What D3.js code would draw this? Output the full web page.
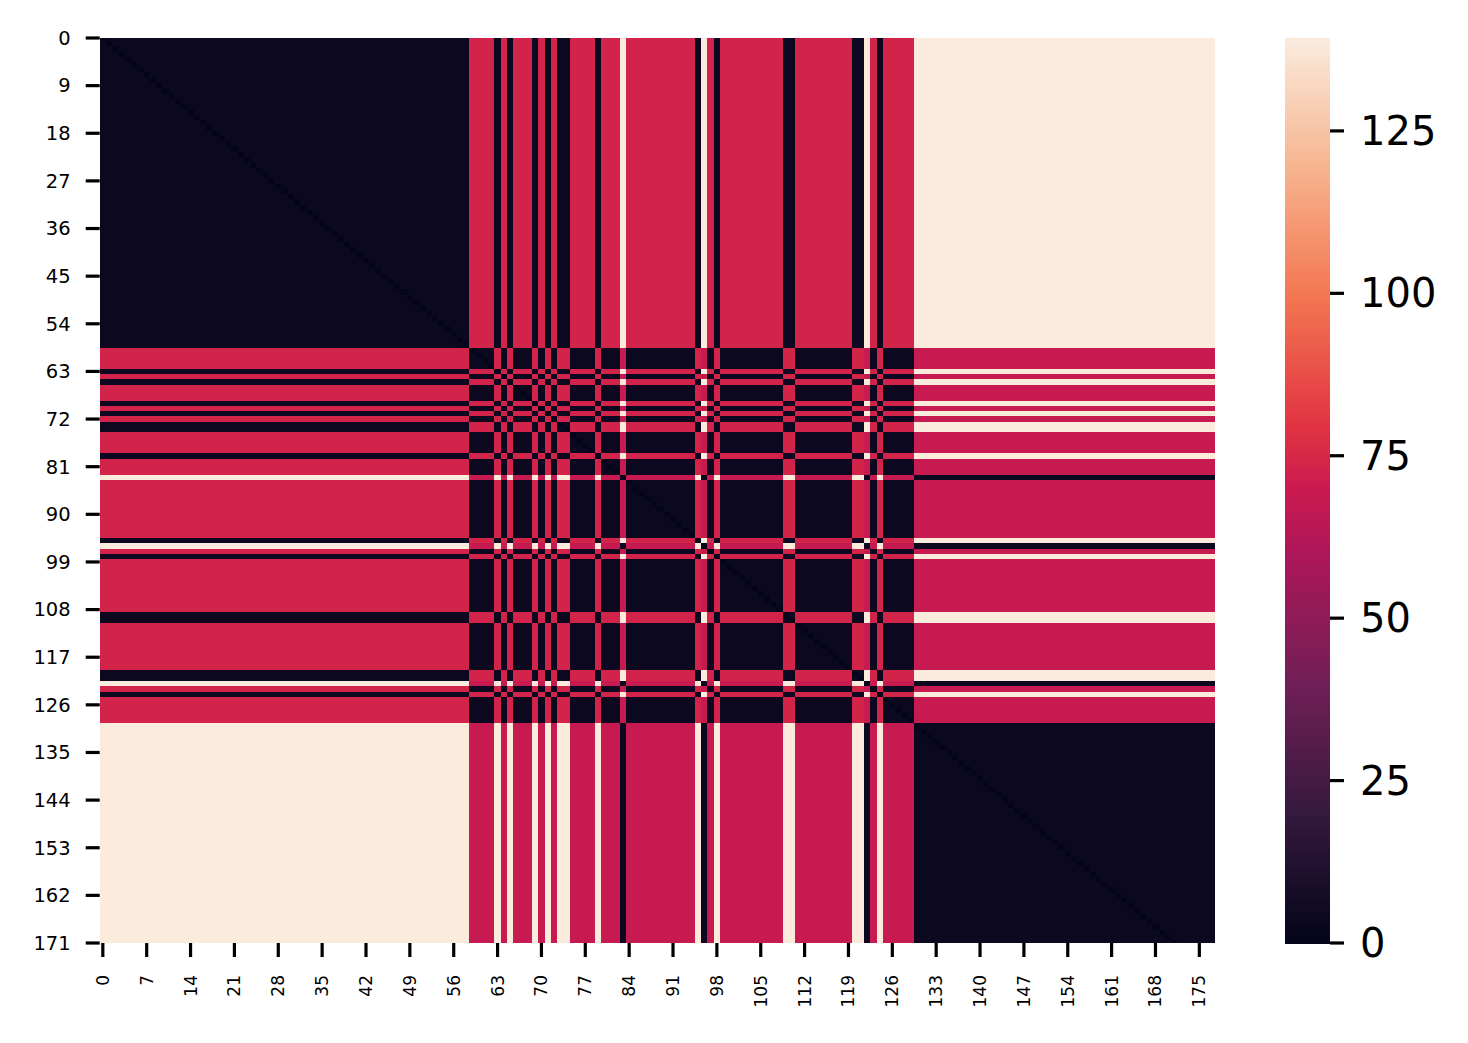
<!DOCTYPE html>
<html>
<head>
<meta charset="utf-8">
<script src="https://cdn.jsdelivr.net/npm/d3@7"></script>
<style>
  body { margin: 0; background: #fff; }
  text { font-family: "DejaVu Sans", sans-serif; fill: #000; }
</style>
</head>
<body>
<div id="chart"></div>
<script>
const groupRuns = [
    ["L", 59], ["M", 4], ["L", 1], ["M", 1], ["L", 1], ["M", 3], ["L", 1], ["M", 1],
    ["L", 1], ["M", 1], ["L", 2], ["M", 4], ["L", 1], ["M", 3], ["H", 1], ["M", 11],
    ["L", 1], ["H", 1], ["M", 1], ["L", 1], ["M", 10], ["L", 2], ["M", 9], ["L", 2],
    ["H", 1], ["M", 1], ["L", 1], ["M", 5], ["H", 48]
];
// Position of each level, and the distance between two different samples of one level
const levelNames = ["L", "M", "H"];
const levelValues = [0, 70.5, 136.3];
const sameLevelDistance = 3;

// Tick labels
const xTickLabels = [0, 7, 14, 21, 28, 35, 42, 49, 56, 63, 70, 77, 84, 91, 98, 105,
    112, 119, 126, 133, 140, 147, 154, 161, 168, 175];
const yTickLabels = [0, 9, 18, 27, 36, 45, 54, 63, 72, 81, 90, 99, 108, 117, 126,
    135, 144, 153, 162, 171];
const colorbarTicks = [0, 25, 50, 75, 100, 125];

// "rocket" colormap key colours
const rocketStops = [0, 0.143, 0.286, 0.429, 0.5, 0.571, 0.714, 0.857, 1];
const rocketColors = ["#03051a", "#35193e", "#701f57", "#ad1759", "#c91a50",
    "#e13342", "#f37651", "#f6b48f", "#faebdd"];

const width = 1468, height = 1043;
const plot = { left: 99.7, right: 1215, top: 38, bottom: 943 };
const cbar = { left: 1285, right: 1330 };
const tickLen = 14, tickPad = 14;

// Expand runs into one level value per sample
const sampleValues = [];
groupRuns.forEach(([lvl, n]) => {
    for (let k = 0; k < n; k++) sampleValues.push(levelValues[levelNames.indexOf(lvl)]);
});
const n = sampleValues.length;

// Pairwise distances
const cells = [];
for (let i = 0; i < n; i++) {
    for (let j = 0; j < n; j++) {
        const v = Math.abs(sampleValues[i] - sampleValues[j]) + (i === j ? 0 : sameLevelDistance);
        cells.push({ row: i, col: j, value: v });
    }
}
const vmax = d3.max(cells, d => d.value);

const svg = d3.select("#chart")
    .append("svg")
    .attr("width", width)
    .attr("height", height)
    .style("background", "#fff");

// Scales: cells sit on [i, i+1]; the row axis shows 0.5 .. 171.5
const x = d3.scaleLinear().domain([0, n]).range([plot.left, plot.right]);
const y = d3.scaleLinear().domain([0.5, 171.5]).range([plot.top, plot.bottom]);
const color = d3.scaleLinear()
    .domain(rocketStops.map(t => t * vmax))
    .range(rocketColors)
    .clamp(true);

svg.append("clipPath")
    .attr("id", "plot-clip")
    .append("rect")
    .attr("x", plot.left)
    .attr("y", plot.top)
    .attr("width", plot.right - plot.left)
    .attr("height", plot.bottom - plot.top);

svg.append("g")
    .attr("clip-path", "url(#plot-clip)")
    .attr("shape-rendering", "crispEdges")
    .selectAll("rect")
    .data(cells.filter(d => d.row <= 172))
    .enter()
    .append("rect")
    .attr("x", d => x(d.col))
    .attr("y", d => y(d.row))
    .attr("width", d => x(d.col + 1) - x(d.col) + 0.3)
    .attr("height", d => y(d.row + 1) - y(d.row) + 0.3)
    .attr("fill", d => color(d.value));

// X axis
const xAxis = svg.append("g");
xAxis.selectAll("line")
    .data(xTickLabels)
    .enter()
    .append("line")
    .attr("x1", d => x(d + 0.5))
    .attr("x2", d => x(d + 0.5))
    .attr("y1", plot.bottom)
    .attr("y2", plot.bottom + tickLen)
    .attr("stroke", "#000")
    .attr("stroke-width", 3.2);
xAxis.selectAll("text")
    .data(xTickLabels)
    .enter()
    .append("text")
    .attr("transform", d => "translate(" + x(d + 0.5) + "," + (plot.bottom + tickLen + tickPad + 4) + ") rotate(-90)")
    .attr("text-anchor", "end")
    .attr("dy", "0.35em")
    .style("font-size", "17px")
    .text(d => d);

// Y axis
const yAxis = svg.append("g");
yAxis.selectAll("line")
    .data(yTickLabels)
    .enter()
    .append("line")
    .attr("x1", plot.left - tickLen)
    .attr("x2", plot.left)
    .attr("y1", d => y(d + 0.5))
    .attr("y2", d => y(d + 0.5))
    .attr("stroke", "#000")
    .attr("stroke-width", 3.2);
yAxis.selectAll("text")
    .data(yTickLabels)
    .enter()
    .append("text")
    .attr("x", plot.left - tickLen - tickPad - 1)
    .attr("y", d => y(d + 0.5))
    .attr("text-anchor", "end")
    .attr("dy", "0.35em")
    .style("font-size", "19.5px")
    .text(d => d);

// Colorbar
const cy = d3.scaleLinear().domain([0, vmax]).range([plot.bottom, plot.top]);
const steps = d3.range(256).map(k => k / 256 * vmax);
svg.append("g")
    .attr("shape-rendering", "crispEdges")
    .selectAll("rect")
    .data(steps)
    .enter()
    .append("rect")
    .attr("x", cbar.left)
    .attr("width", cbar.right - cbar.left)
    .attr("y", d => cy(d + vmax / 256))
    .attr("height", cy(0) - cy(vmax / 256) + 0.5)
    .attr("fill", d => color(d + vmax / 512));

const cAxis = svg.append("g");
cAxis.selectAll("line")
    .data(colorbarTicks)
    .enter()
    .append("line")
    .attr("x1", cbar.right)
    .attr("x2", cbar.right + tickLen)
    .attr("y1", d => cy(d))
    .attr("y2", d => cy(d))
    .attr("stroke", "#000")
    .attr("stroke-width", 3.2);
cAxis.selectAll("text")
    .data(colorbarTicks)
    .enter()
    .append("text")
    .attr("x", cbar.right + tickLen + tickPad + 2)
    .attr("y", d => cy(d))
    .attr("dy", "0.35em")
    .style("font-size", "40px")
    .text(d => d);
</script>
</body>
</html>
